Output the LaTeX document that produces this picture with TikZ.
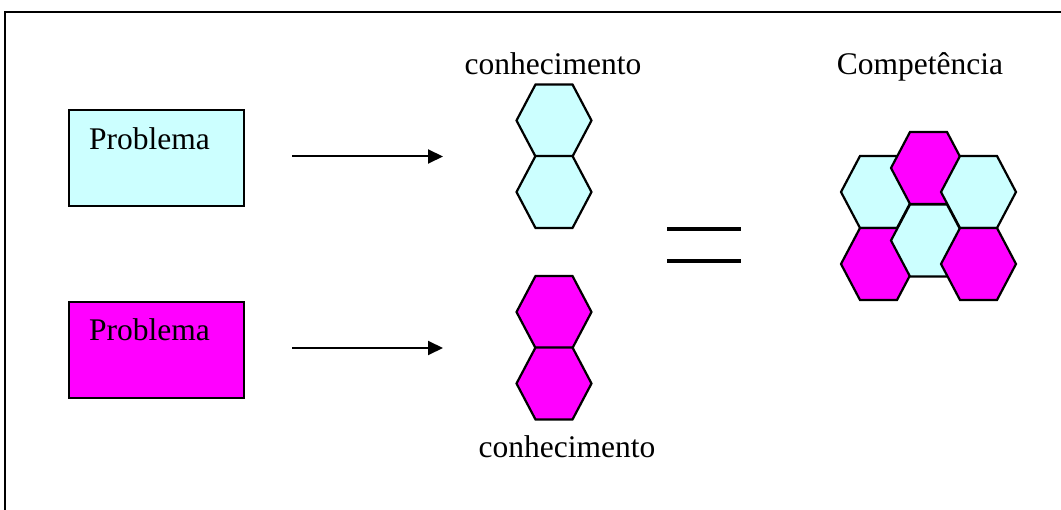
\documentclass[tikz,border=0pt]{standalone}
\usepackage{fontspec}
\setmainfont{Liberation Serif}
\usetikzlibrary{arrows.meta}
\definecolor{paleCyan}{RGB}{204,255,255}
\definecolor{brightMagenta}{RGB}{255,0,255}

% one hexagonal cell: centre x, centre y, fill colour
\newcommand{\hexcell}[3]{%
  \filldraw[hexline,fill=#3,shift={(#1,#2)}]
    (-37.5,0) -- (-18.5,-36) -- (18.5,-36) -- (37.5,0) -- (18.5,36) -- (-18.5,36) -- cycle;}

\begin{document}
\begin{tikzpicture}[x=1pt,y=-1pt,
  probbox/.style={draw=black,line width=2pt,minimum width=175pt,minimum height=96pt,
                  inner sep=0pt,anchor=north west},
  txt/.style={inner sep=0pt,font=\fontsize{31.5}{36}\selectfont},
  flow/.style={line width=2pt,-{Triangle[length=15pt,width=14pt]}},
  hexline/.style={draw=black,line width=2.2pt,line join=miter},
  eqbar/.style={line width=4pt}
]
\useasboundingbox (0,0) rectangle (1061,510);

% outer frame (open to the right and bottom)
\draw[line width=2pt] (4.5,510) |- (1061,12.5);

% problem boxes
\node[probbox,fill=paleCyan] (boxA) at (68,109) {};
\node[probbox,fill=brightMagenta] (boxB) at (68,301) {};
\node[txt,anchor=base west] (probA) at (89,150) {Problema};
\node[txt,anchor=base west] (probB) at (89,341) {Problema};

% arrows towards the knowledge cells
\coordinate (arrAs) at (292,156.5);
\coordinate (arrAe) at (443,156.5);
\coordinate (arrBs) at (292,348);
\coordinate (arrBe) at (443,348);
\draw[flow] (arrAs) -- (arrAe);
\draw[flow] (arrBs) -- (arrBe);

% knowledge pairs
\hexcell{554}{120.5}{paleCyan}
\hexcell{554}{192}{paleCyan}
\hexcell{554}{312}{brightMagenta}
\hexcell{554}{383.5}{brightMagenta}

\node[txt,anchor=base] (conhA) at (553,75) {conhecimento};
\node[txt,anchor=base] (conhB) at (567,458) {conhecimento};

% equals sign
\coordinate (eqAl) at (667,228.7);
\coordinate (eqAr) at (741,228.7);
\coordinate (eqBl) at (667,260.7);
\coordinate (eqBr) at (741,260.7);
\draw[eqbar] (eqAl) -- (eqAr);
\draw[eqbar] (eqBl) -- (eqBr);

% competence cluster
\node[txt,anchor=base] (comp) at (920,75) {Competência};
\hexcell{878.5}{192}{paleCyan}
\hexcell{928.5}{168}{brightMagenta}
\hexcell{978.5}{192}{paleCyan}
\hexcell{878.5}{264}{brightMagenta}
\hexcell{928.5}{240.5}{paleCyan}
\hexcell{978.5}{264}{brightMagenta}
\end{tikzpicture}
\end{document}
